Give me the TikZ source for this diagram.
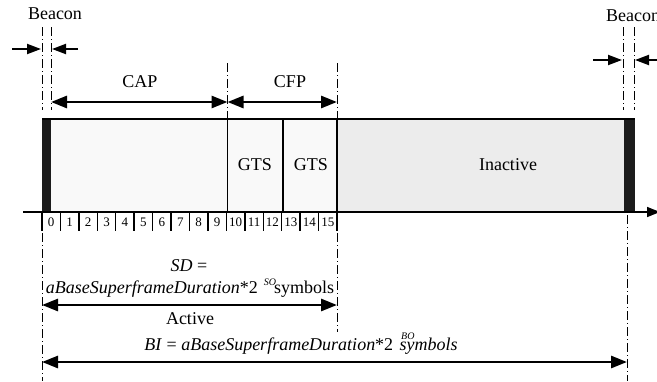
\documentclass[tikz,border=0pt]{standalone}
\usepackage{fontspec}
\setmainfont{Liberation Serif}
\usetikzlibrary{arrows.meta}
\begin{document}
\begin{tikzpicture}[x=1pt,y=-1pt,
  lbl/.style={font=\fontsize{18}{20}\selectfont, inner sep=0pt},
  num/.style={font=\fontsize{13}{14}\selectfont, inner sep=0pt},
  ddline/.style={line width=1pt, dash pattern=on 9pt off 3pt on 1pt off 3pt},
  dimarrow/.style={line width=2.8pt, {Triangle[length=16pt,width=12pt]}-{Triangle[length=16pt,width=12pt]}},
  beaconarrow/.style={line width=2pt, -{Triangle[length=14pt,width=10pt]}},
  frame/.style={line width=1.4pt}]
\path[use as bounding box] (0,0) rectangle (657,381);
\clip (0,0) rectangle (657,381);
\fill[white] (0,0) rectangle (657,381);

% regions
\fill[fill={rgb,255:red,249;green,249;blue,249}] (51,119) rectangle (337,212);
\fill[fill={rgb,255:red,236;green,236;blue,236}] (337,119) rectangle (624,212);
\fill[fill={rgb,255:red,28;green,28;blue,28}] (42,119) rectangle (51,212);
\fill[fill={rgb,255:red,28;green,28;blue,28}] (624,119) rectangle (635,212);
\draw[frame] (42,119) -- (635,119);
\draw[frame] (227.5,119) -- (227.5,212);
\draw[line width=2.4pt] (283,119) -- (283,212);
\draw[frame] (337,119) -- (337,212);

% axis
\coordinate (axL) at (23,212);
\coordinate (axR) at (660,212);
\draw[line width=1.5pt, -{Triangle[length=13pt,width=10pt]}] (axL) -- (axR);

% slots
\foreach \i in {0,...,16} {
  \draw[line width=1.4pt] ({42+\i*18.4375},212) -- ({42+\i*18.4375},231);
}
\foreach \i in {0,...,15} {
  \node[num] (s\i) at ({42+(\i+0.5)*18.4375},222) {\i};
}

% beacon markers
\foreach \x in {42,51,623,634} {
  \draw[ddline] (\x,27) -- (\x,110);
}
\node[lbl] (beaconL) at (55,14) {Beacon};
\node[lbl, anchor=west] (beaconR) at (606,16) {Beacon};
\coordinate (bl1) at (12,49);  \coordinate (bl2) at (41,49);
\coordinate (bl3) at (78,49);  \coordinate (bl4) at (52,49);
\draw[beaconarrow] (bl1) -- (bl2);
\draw[beaconarrow] (bl3) -- (bl4);
\coordinate (br1) at (593,60); \coordinate (br2) at (622,60);
\coordinate (br3) at (660,60); \coordinate (br4) at (635,60);
\draw[beaconarrow] (br1) -- (br2);
\draw[beaconarrow] (br3) -- (br4);

% CAP / CFP
\draw[ddline] (227.5,63) -- (227.5,119);
\draw[ddline] (337,63) -- (337,119);
\node[lbl] (cap) at (140,82) {CAP};
\node[lbl] (cfp) at (290,82) {CFP};
\coordinate (capL) at (51,102); \coordinate (capR) at (227.5,102);
\coordinate (cfpR) at (337,102);
\draw[dimarrow] (capL) -- (capR);
\draw[dimarrow] (capR) -- (cfpR);

% labels in box
\node[lbl] (gts1) at (255,165) {GTS};
\node[lbl] (gts2) at (311,165) {GTS};
\node[lbl] (inact) at (508,165) {Inactive};

% lower dash-dot lines
\draw[ddline] (42,233) -- (42,381);
\draw[ddline] (337,233) -- (337,332);
\draw[ddline] (627,215) -- (627,381);

% SD
\node[lbl] (sd1) at (189,266) {\textit{SD} =};
\node[lbl] (sd2) at (190,288) {\textit{aBaseSuperframeDuration}*2\hspace{6pt}\raisebox{8pt}{\fontsize{10}{10}\selectfont\textit{SO}}\hspace{-2pt}symbols};
\coordinate (actL) at (42,305); \coordinate (actR) at (337,305);
\draw[dimarrow] (actL) -- (actR);
\node[lbl] (active) at (190,319) {Active};

% BI
\node[lbl] (bi) at (301,344) {\textit{BI} = \textit{aBaseSuperframeDuration}*2\hspace{8pt}\raisebox{11pt}{\fontsize{10}{10}\selectfont\textit{BO}}\hspace{-15pt}\textit{symbols}};
\coordinate (biL) at (42,362); \coordinate (biR) at (627,362);
\draw[dimarrow] (biL) -- (biR);
\end{tikzpicture}
\end{document}
